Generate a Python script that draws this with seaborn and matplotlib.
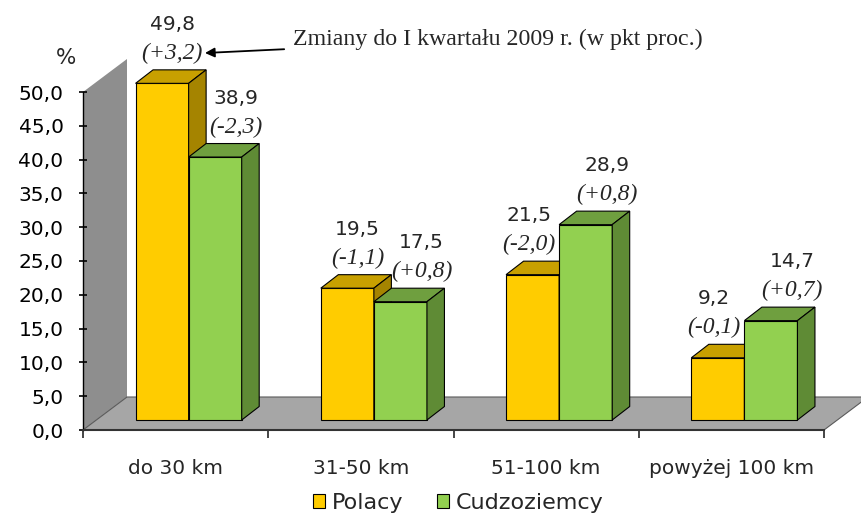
import numpy as np
import pandas as pd
import matplotlib
matplotlib.use("Agg")
import matplotlib.pyplot as plt
from matplotlib.patches import Polygon, Patch
import seaborn as sns

# dane z wykresu (udzial w %, zmiany w pkt proc.)
categories = ["do 30 km", "31-50 km", "51-100 km", "powyżej 100 km"]
series = ["Polacy", "Cudzoziemcy"]
polacy = [49.8, 19.5, 21.5, 9.2]
cudzoziemcy = [38.9, 17.5, 28.9, 14.7]
polacy_change = ["(+3,2)", "(-1,1)", "(-2,0)", "(-0,1)"]
cudzoziemcy_change = ["(-2,3)", "(+0,8)", "(+0,8)", "(+0,7)"]
y_ticks = [0, 5, 10, 15, 20, 25, 30, 35, 40, 45, 50]

front_colors = ["#FFCC00", "#92D050"]
top_colors = ["#C8A000", "#6F9F3F"]
side_colors = ["#A58400", "#5F8B35"]

sns.set_style("white")
plt.rcParams["font.family"] = ["DejaVu Sans"]

df = pd.DataFrame({
    "kategoria": categories * 2,
    "wartosc": polacy + cudzoziemcy,
    "grupa": [series[0]] * 4 + [series[1]] * 4,
})

fig = plt.figure(figsize=(8.61, 5.14), dpi=100)
ax = fig.add_axes([83 / 861, 84 / 514, 741 / 861, 338 / 514])

sns.barplot(data=df, x="kategoria", y="wartosc", hue="grupa", palette=front_colors,
            width=0.573, saturation=1, edgecolor="black", linewidth=0.8, ax=ax)
ax.set_xlim(-0.5, 3.5)
ax.set_ylim(0, 50)

# pixel -> data
px_x = 4 / 741
px_y = 50 / 338
depth = (44 * px_x, 33 * px_y)          # glebokosc scianki / podlogi
shift = (13 * px_x, 10 * px_y)          # przesuniecie slupkow w glab
bar_d = (17.5 * px_x, 13.5 * px_y)      # glebokosc slupka

# tylna scianka i podloga
wall = Polygon([(-0.5, 0), (-0.5, 50), (-0.5 + depth[0], 50 + depth[1]), (-0.5 + depth[0], depth[1])],
               closed=True, facecolor="#8E8E8E", edgecolor="none", zorder=0.5, clip_on=False)
floor = Polygon([(-0.5, 0), (3.5, 0), (3.5 + depth[0], depth[1]), (-0.5 + depth[0], depth[1])],
                closed=True, facecolor="#A6A6A6", edgecolor="#5a5a5a", lw=0.8, zorder=0.6, clip_on=False)
ax.add_patch(wall)
ax.add_patch(floor)

changes = [polacy_change, cudzoziemcy_change]
for i, cont in enumerate(ax.containers):
    for j, p in enumerate(cont.patches):
        p.set_x(p.get_x() + shift[0])
        p.set_y(shift[1])
        p.set_zorder(3 + i)
        p.set_clip_on(False)
        x0, y0, w, h = p.get_x(), p.get_y(), p.get_width(), p.get_height()
        top = Polygon([(x0, y0 + h), (x0 + w, y0 + h), (x0 + w + bar_d[0], y0 + h + bar_d[1]),
                       (x0 + bar_d[0], y0 + h + bar_d[1])], closed=True,
                      facecolor=top_colors[i], edgecolor="black", lw=0.8, zorder=3 + i, clip_on=False)
        side = Polygon([(x0 + w, y0), (x0 + w + bar_d[0], y0 + bar_d[1]),
                        (x0 + w + bar_d[0], y0 + h + bar_d[1]), (x0 + w, y0 + h)], closed=True,
                       facecolor=side_colors[i], edgecolor="black", lw=0.8, zorder=3 + i, clip_on=False)
        ax.add_patch(top)
        ax.add_patch(side)

        # etykiety: zolte przesuniete w lewo, gdy zielony slupek jest wyzszy
        if i == 0:
            dx = (10 if polacy[j] > cudzoziemcy[j] else -4) * px_x
        else:
            dx = 21 * px_x
        cx = x0 + w / 2 + dx
        base = y0 + h + bar_d[1] + 11 * px_y
        ax.text(cx, base, changes[i][j], ha="center", va="baseline", fontsize=17,
                family=["Liberation Serif"], style="italic", zorder=6, clip_on=False)
        ax.text(cx, base + 29 * px_y, f"{h:.1f}".replace(".", ","), ha="center",
                va="baseline", fontsize=14.5, zorder=6, clip_on=False)

# osie
for s in ["top", "right"]:
    ax.spines[s].set_visible(False)
ax.spines["left"].set_color("black")
ax.spines["left"].set_linewidth(1)
ax.spines["left"].set_zorder(1)
ax.spines["bottom"].set_color("#333333")
ax.spines["bottom"].set_linewidth(1.5)
ax.set_yticks(y_ticks)
ax.set_yticklabels([f"{t:.1f}".replace(".", ",") for t in y_ticks], fontsize=14.5)
ax.tick_params(axis="y", direction="inout", length=6, width=1.2, pad=11, colors="black", left=True)
ax.set_xticks(np.arange(-0.5, 4, 1))
ax.set_xticklabels([])
ax.tick_params(axis="x", which="major", direction="out", length=6, width=1.2, bottom=True)
ax.set_xticks(range(4), minor=True)
ax.set_xticklabels(categories, minor=True, fontsize=14.5)
ax.tick_params(axis="x", which="minor", length=0, pad=21)
ax.set_xlabel("")
ax.set_ylabel("")

fig.text(66 / 861, 1 - 58 / 514, "%", ha="center", va="center", fontsize=15.5)

ax.annotate("Zmiany do I kwartału 2009 r. (w pkt proc.)", xy=(205, 514 - 53), xycoords="figure pixels",
            xytext=(293, 514 - 39), textcoords="figure pixels", ha="left", va="center",
            fontsize=17.2, family=["Liberation Serif"],
            arrowprops=dict(arrowstyle="-|>", color="black", lw=1.3, mutation_scale=14, shrinkA=4, shrinkB=0))

# legenda
if ax.get_legend() is not None:
    ax.get_legend().remove()
handles = [Patch(facecolor=c, edgecolor="black", lw=0.8) for c in front_colors]
fig.legend(handles, series, loc="center", bbox_to_anchor=(458 / 861, 11 / 514), ncol=2,
           frameon=False, fontsize=16, handlelength=0.55, handleheight=0.55,
           handletextpad=0.3, columnspacing=1.5, borderpad=0)

fig.savefig("out.png", dpi=100)
